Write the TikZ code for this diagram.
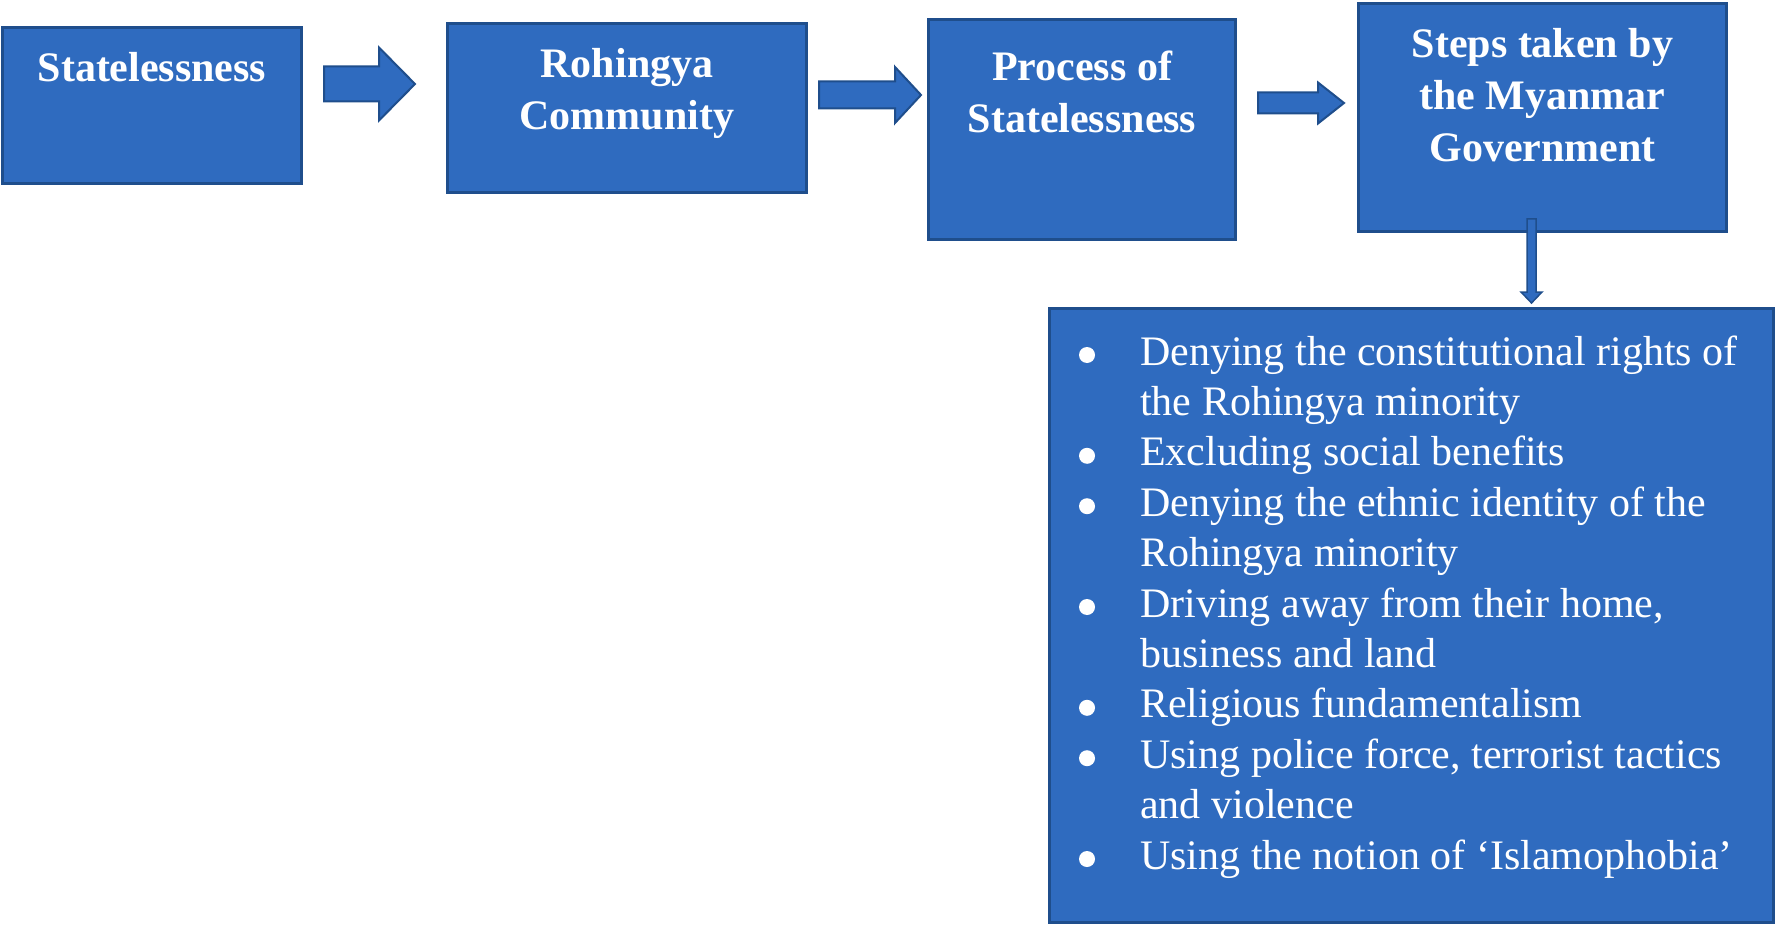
\documentclass[tikz,border=0pt]{standalone}
\usepackage{fontspec}
\setmainfont{Liberation Serif}
\usetikzlibrary{calc}
\definecolor{boxfill}{HTML}{2F6BBF}
\definecolor{boxline}{HTML}{1F4E8C}
\newcommand\blockarrowR[5]{% start coord, head x, tip x, shaft half, head half
  \draw[barrow] let \p1=(#1) in
    (\x1,\y1+#4) -- (#2,\y1+#4) -- (#2,\y1+#5) -- (#3,\y1) -- (#2,\y1-#5)
    -- (#2,\y1-#4) -- (\x1,\y1-#4) -- cycle;}
\newenvironment{steplist}{\begin{list}{}{\setlength\leftmargin{0pt}\setlength\labelwidth{0pt}%
\setlength\labelsep{0pt}\setlength\itemsep{0pt}\setlength\parsep{0pt}%
\setlength\topsep{0pt}\setlength\partopsep{0pt}}}{\end{list}}
\begin{document}
\begin{tikzpicture}[x=1pt,y=1pt,
  box/.style={draw=boxline, fill=boxfill, line width=3pt, inner sep=0pt, anchor=north west},
  headtxt/.style={inner sep=0pt, text=white, font=\fontsize{42}{52}\selectfont\bfseries, anchor=base},
  barrow/.style={draw=boxline, fill=boxfill, line width=2pt, line join=miter},
  dot/.style={fill=white}]
\useasboundingbox (0,0) rectangle (1779,-925);
% boxes
\node[box, minimum width=299, minimum height=156] (b1) at (1,-26) {};
\node[box, minimum width=359, minimum height=169] (b2) at (446,-22) {};
\node[box, minimum width=307, minimum height=220] (b3) at (927,-18) {};
\node[box, minimum width=368, minimum height=228] (b4) at (1357,-2) {};
\node[box, minimum width=724, minimum height=614] (b5) at (1048,-307) {};
% titles
\node[headtxt] (t1) at ($(b1.north)+(0,-56)$) {\begin{tabular}[t]{@{}c@{}}Statelessness\end{tabular}};
\node[headtxt] (t2) at ($(b2.north)+(0,-56)$) {\begin{tabular}[t]{@{}c@{}}Rohingya\\Community\end{tabular}};
\node[headtxt] (t3) at ($(b3.north)+(0,-63)$) {\begin{tabular}[t]{@{}c@{}}Process of\\Statelessness\end{tabular}};
\node[headtxt] (t4) at ($(b4.north)+(0,-56)$) {\begin{tabular}[t]{@{}c@{}}Steps taken by\\the Myanmar\\Government\end{tabular}};
% block arrows between boxes
\coordinate (a1) at (324,-84);
\coordinate (a2) at (819,-95);
\coordinate (a3) at (1258,-103);
\blockarrowR{a1}{379}{415}{17.5}{36.5}
\blockarrowR{a2}{895}{921}{13.5}{28}
\blockarrowR{a3}{1318}{1344}{10.5}{20.5}
% down arrow from b4 to b5
\coordinate (d1) at ($(b4.south)+(-11,14)$);
\draw[barrow, line width=1.5pt] let \p1=(d1), \p2=(b5.north) in
  (\x1-4.5,\y1) -- (\x1+4.5,\y1) -- (\x1+4.5,\y2+15) -- (\x1+10.5,\y2+15)
  -- (\x1,\y2+4) -- (\x1-10.5,\y2+15) -- (\x1-4.5,\y2+15) -- cycle;
% list
\node[anchor=base west, inner sep=0pt, text=white, font=\fontsize{42}{50.4}\selectfont] (list) at (1140,-365)
{\begin{minipage}[t]{630pt}\raggedright
\begin{steplist}
\item Denying the constitutional rights of\newline the Rohingya minority
\item Excluding social benefits
\item Denying the ethnic identity of the\newline Rohingya minority
\item Driving away from their home,\newline business and land
\item Religious fundamentalism
\item Using police force, terrorist tactics\newline and violence
\item Using the notion of `Islamophobia'
\end{steplist}\end{minipage}};
% bullets
\foreach \k in {0,2,3,5,7,8,10}
  \fill[dot] ($(list.base west)+(-53,10-50.4*\k)$) circle (8);
\end{tikzpicture}
\end{document}
